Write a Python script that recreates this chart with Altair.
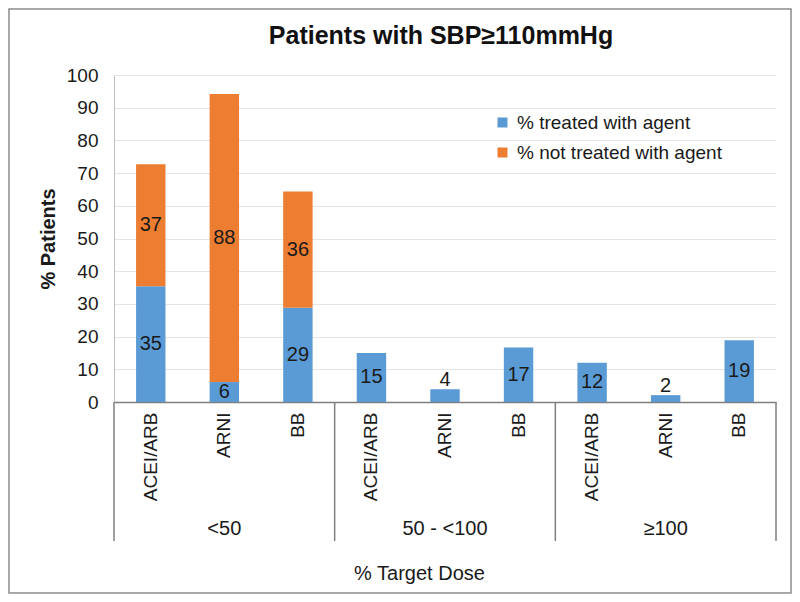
import altair as alt
import pandas as pd

groups = ["<50", "50 - <100", "≥100"]
agents = ["ACEI/ARB", "ARNI", "BB"]
treated = [35.4, 6.1, 28.8, 15.0, 3.9, 16.7, 12.0, 2.1, 18.9]
not_treated = [37.3, 88.1, 35.6, 0, 0, 0, 0, 0, 0]
series_names = ["% treated with agent", "% not treated with agent"]
colors = ["#5B9BD5", "#ED7D31"]
y_ticks = [0, 10, 20, 30, 40, 50, 60, 70, 80, 90, 100]

rows = []
i = 0
for g in groups:
    for a in agents:
        key = f"{g}|{a}"
        t = treated[i]
        n = not_treated[i]
        if n == 0 and t < 5:
            ly = t + 2.8
        else:
            ly = t / 2
        rows.append(dict(key=key, series=series_names[0], ord=0, value=t,
                         label=f"{t:.0f}", label_y=ly))
        if n > 0:
            rows.append(dict(key=key, series=series_names[1], ord=1, value=n,
                             label=f"{n:.0f}", label_y=t + n / 2))
        i += 1
df = pd.DataFrame(rows)
keys = [f"{g}|{a}" for g in groups for a in agents]

W, H = 662, 327
FONT = "Liberation Sans"
TXT = "#1a1a1a"

xenc = alt.X("key:N", sort=keys,
             scale=alt.Scale(paddingInner=0.6, paddingOuter=0.3),
             axis=alt.Axis(title="% Target Dose", labelExpr="split(datum.value, '|')[1]",
                           labelAngle=-90, labelPadding=10, ticks=False,
                           labelFontSize=19, labelColor=TXT,
                           domainColor="#7f7f7f", domainWidth=1.5,
                           titleFontSize=20, titleFontWeight="normal", titleColor=TXT,
                           titleX=305, titleY=171, titleBaseline="middle"))

yaxis = alt.Axis(title="% Patients", values=y_ticks,
                 labelOverlap=False,
                 ticks=False, labelPadding=16, labelFontSize=19,
                 labelColor=TXT, domainColor="#bfbfbf",
                 gridColor="#e4e4e4", titleFontSize=20,
                 titleFontWeight="bold", titleColor=TXT,
                 titleX=-56)
yscale = alt.Scale(domain=[0, 100], nice=False)

bars = alt.Chart(df).mark_bar().encode(
    x=xenc,
    y=alt.Y("value:Q", stack="zero", scale=yscale, axis=yaxis),
    order=alt.Order("ord:Q"),
    color=alt.Color("series:N", sort=series_names,
                    scale=alt.Scale(domain=series_names, range=colors),
                    legend=alt.Legend(title=None, orient="none", legendX=379, legendY=38,
                                      symbolType="square", symbolSize=100,
                                      symbolStrokeWidth=0, labelFontSize=19,
                                      labelLimit=400,
                                      labelColor=TXT, rowPadding=10,
                                      labelOffset=5)),
)

labels = alt.Chart(df).mark_text(fontSize=20, color=TXT, font=FONT).encode(
    x=alt.X("key:N", sort=keys),
    y=alt.Y("label_y:Q", scale=yscale, axis=yaxis),
    text="label:N",
)

main = alt.layer(bars, labels)

sep_df = pd.DataFrame({"pos": [0, 3, 6, 9]})
seps = alt.Chart(sep_df).mark_rule(color="#7f7f7f", strokeWidth=1.5).encode(
    x=alt.X("pos:Q", scale=alt.Scale(domain=[0, 9]), axis=None),
    y=alt.value(H),
    y2=alt.value(466),
)

grp_df = pd.DataFrame({"gpos": [1.5, 4.5, 7.5], "group": groups})
grp_text = alt.Chart(grp_df).mark_text(fontSize=20, color=TXT, font=FONT,
                                       baseline="middle").encode(
    x=alt.X("gpos:Q", scale=alt.Scale(domain=[0, 9]), axis=None),
    y=alt.value(454),
    text="group:N",
)

border = alt.Chart(pd.DataFrame({"a": [0]})).mark_rect(
    fill=None, stroke="#8c8c8c", strokeWidth=1.5).encode(
    x=alt.value(-105), x2=alt.value(677), y=alt.value(-66), y2=alt.value(518))

deco = alt.layer(seps, grp_text, border)

chart = alt.layer(main, deco).resolve_scale(
    x="independent"
).properties(
    width=W, height=H,
    title=alt.Title("Patients with SBP≥110mmHg", fontSize=25, fontWeight="bold",
                    color="#111111", anchor="middle", offset=0, dy=41, dx=-4,
                    font=FONT),
    autosize=alt.AutoSizeParams(type="none"),
    padding={"left": 106, "top": 67, "right": 16, "bottom": 192},
).configure(font=FONT).configure_view(stroke=None).configure_axis(
    labelFont=FONT, titleFont=FONT
).configure_legend(labelFont=FONT)

chart.save("out.html", embed_options={"renderer": "svg", "actions": False})
